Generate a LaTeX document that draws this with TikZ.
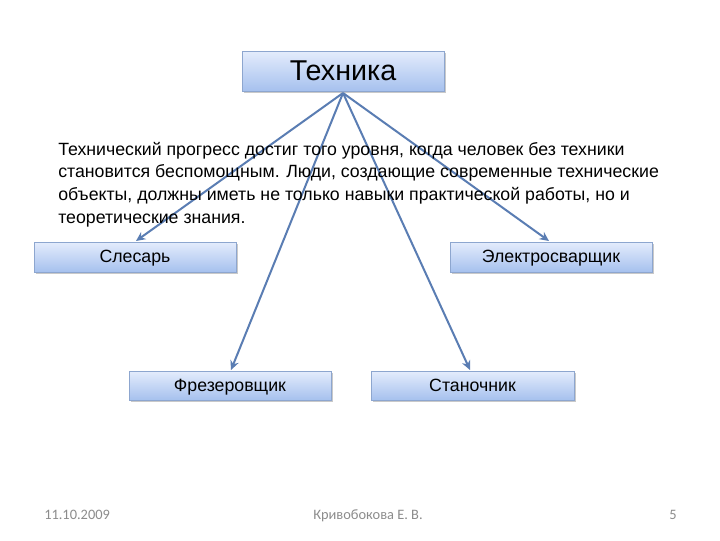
\documentclass[tikz,border=0pt]{standalone}
\usepackage{fontspec}
\setmainfont{Liberation Sans}
\newfontfamily\footfont{Carlito}
\usetikzlibrary{arrows.meta,shadows}
\definecolor{boxtop}{HTML}{E4ECFC}
\definecolor{boxbot}{HTML}{A6C1EE}
\definecolor{boxedge}{HTML}{8DA6CF}
\definecolor{arrowc}{HTML}{5A7DB3}
\definecolor{footc}{HTML}{8C8C8C}
\tikzset{
  px/.style={x=0.75pt,y=-0.75pt},
  bbox/.style={draw=boxedge, line width=0.6pt, top color=boxtop, bottom color=boxbot,
    drop shadow={shadow xshift=1.2pt,shadow yshift=-1.5pt,opacity=0.35,fill=black!60}},
  lbl/.style={anchor=base, inner sep=0pt, font=\fontsize{13.3}{15}\selectfont},
  conn/.style={draw=arrowc, line width=1.5pt, -{Stealth[length=7pt,width=6.5pt]}},
  foot/.style={font=\footfont\fontsize{10.8}{12}\selectfont, text=footc, inner sep=0pt}
}
\begin{document}
\begin{tikzpicture}[px]
\useasboundingbox (0,0) rectangle (720,540);
\fill[white] (0,0) rectangle (720,540);
% boxes
\path[bbox] (242,51) rectangle (444,91);
\node[anchor=base, inner sep=0pt, font=\fontsize{21.5}{24}\selectfont] (tech) at (343,80) {Техника};
\path[bbox] (34,242) rectangle (236,272);
\node[lbl] (sles) at (135,262.5) {Слесарь};
\path[bbox] (450,242) rectangle (652,272);
\node[lbl] (elek) at (551,262.5) {Электросварщик};
\path[bbox] (129,371) rectangle (331,400);
\node[lbl] (frez) at (230,391) {Фрезеровщик};
\path[bbox] (371,371) rectangle (574,400);
\node[lbl] (stan) at (472.5,391) {Станочник};
\coordinate (src) at (343,93);
\coordinate (tS) at (136,241);
\coordinate (tE) at (549,241);
\coordinate (tF) at (231,370);
\coordinate (tT) at (470,370);
% arrows
\draw[conn] (src) -- (tS);
\draw[conn] (src) -- (tE);
\draw[conn] (src) -- (tF);
\draw[conn] (src) -- (tT);
% paragraph
\node[anchor=base west, inner sep=0pt, align=left, font=\fontsize{13.3}{17}\selectfont] (para) at (58,223)
{Технический прогресс достиг того уровня, когда человек без техники\\
становится беспомощным. Люди, создающие современные технические\\
объекты, должны иметь не только навыки практической работы, но и\\
теоретические знания.};
% footer
\node[foot, anchor=base west] (date) at (44,519) {11.10.2009};
\node[foot, anchor=base] (auth) at (368,519) {Кривобокова Е. В.};
\node[foot, anchor=base east] (pg) at (677,519) {5};
\end{tikzpicture}
\end{document}
